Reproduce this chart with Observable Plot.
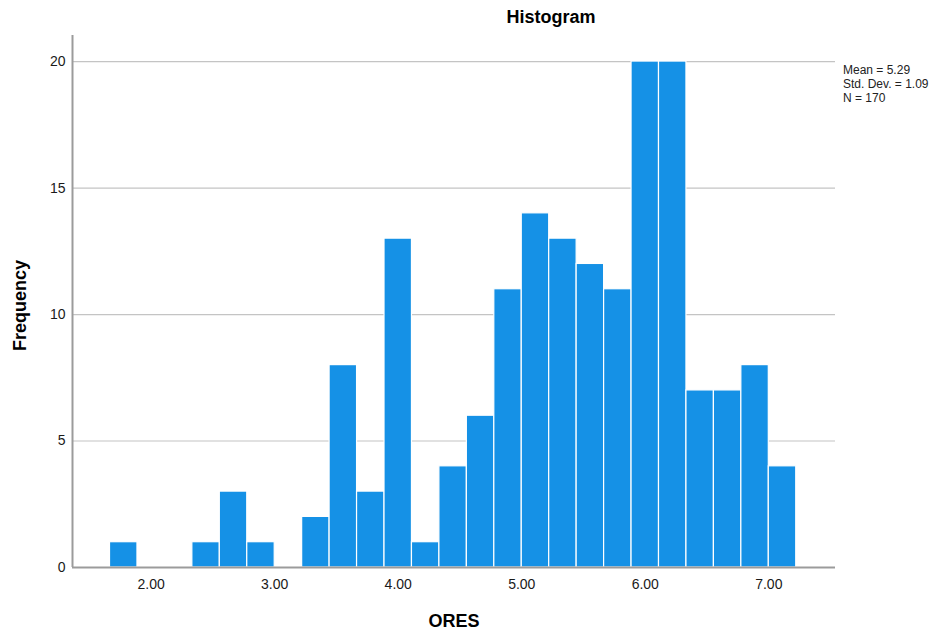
<!DOCTYPE html>
<html>
<head>
<meta charset="utf-8">
<script src="https://cdn.jsdelivr.net/npm/d3@7"></script>
<script src="https://cdn.jsdelivr.net/npm/@observablehq/plot@0.6"></script>
<style>
  html, body { margin: 0; padding: 0; background: #fff; }
  #wrap { position: relative; width: 949px; height: 636px; font-family: "Liberation Sans", Arial, sans-serif; }
  .lbl { position: absolute; color: #000; white-space: nowrap; }
</style>
</head>
<body>
<div id="wrap"></div>
<script>
// Bin lower/upper edges (ORES) and frequencies
const binEdges = [1.6667, 1.8889, 2.1111, 2.3333, 2.5556, 2.7778, 3.0, 3.2222, 3.4444, 3.6667,
                  3.8889, 4.1111, 4.3333, 4.5556, 4.7778, 5.0, 5.2222, 5.4444, 5.6667, 5.8889,
                  6.1111, 6.3333, 6.5556, 6.7778, 7.0, 7.2222];
const counts = [1, 0, 0, 1, 3, 1, 0, 2, 8, 3, 13, 1, 4, 6, 11, 14, 13, 12, 11, 20, 20, 7, 7, 8, 4];
const xTicks = [2, 3, 4, 5, 6, 7];
const yTicks = [0, 5, 10, 15, 20];
const gridValues = [5, 10, 15, 20];
const legendLines = ["Mean = 5.29", "Std. Dev. = 1.09", "N = 170"];
const titleText = "Histogram";
const xLabel = "ORES";
const yLabel = "Frequency";

const bins = counts.map((c, i) => ({x1: binEdges[i], x2: binEdges[i + 1], count: c})).filter(d => d.count > 0);

const xDomain = [1.363, 7.54];
const yDomain = [0, 21.03];

const chart = Plot.plot({
  width: 949,
  height: 636,
  marginLeft: 72,
  marginRight: 114,
  marginTop: 35,
  marginBottom: 69,
  style: {fontFamily: "'Liberation Sans', Arial, sans-serif", fontSize: "14px", color: "#1a1a1a", background: "#fff"},
  x: {domain: xDomain, ticks: xTicks, tickFormat: d3.format(".2f"), label: null},
  y: {domain: yDomain, ticks: yTicks, label: null},
  marks: [
    Plot.ruleY(gridValues, {stroke: "#c4c4c4", strokeWidth: 1.2, strokeOpacity: 1}),
    Plot.rectY(bins, {x1: "x1", x2: "x2", y: "count", fill: "#1591e6", stroke: "#ffffff", strokeWidth: 1.2}),
    Plot.ruleY([0], {stroke: "#9b9b9b", strokeWidth: 2}),
    Plot.ruleX([xDomain[0]], {stroke: "#9b9b9b", strokeWidth: 2}),
    Plot.axisX({ticks: xTicks, tickFormat: d3.format(".2f"), tickSize: 0, tickPadding: 12, fontSize: 14, label: null}),
    Plot.axisY({ticks: yTicks, tickSize: 0, tickPadding: 7, fontSize: 14, label: null})
  ]
});

const wrap = document.getElementById("wrap");
chart.style.position = "absolute";
chart.style.left = "0px";
chart.style.top = "0px";
wrap.appendChild(chart);

function addLabel(text, css) {
  const d = document.createElement("div");
  d.className = "lbl";
  d.textContent = text;
  Object.assign(d.style, css);
  wrap.appendChild(d);
  return d;
}

addLabel(titleText, {left: "451px", width: "200px", textAlign: "center", top: "7px", fontSize: "18px", fontWeight: "bold"});
addLabel(xLabel, {left: "354px", width: "200px", textAlign: "center", top: "611px", fontSize: "18px", fontWeight: "bold"});
addLabel(yLabel, {left: "-80px", width: "200px", textAlign: "center", top: "295px", fontSize: "18px", fontWeight: "bold", transform: "rotate(-90deg)"});
legendLines.forEach((t, i) => {
  addLabel(t, {left: "843px", top: (63 + i * 14) + "px", fontSize: "12px", lineHeight: "14px", color: "#222"});
});
</script>
</body>
</html>
